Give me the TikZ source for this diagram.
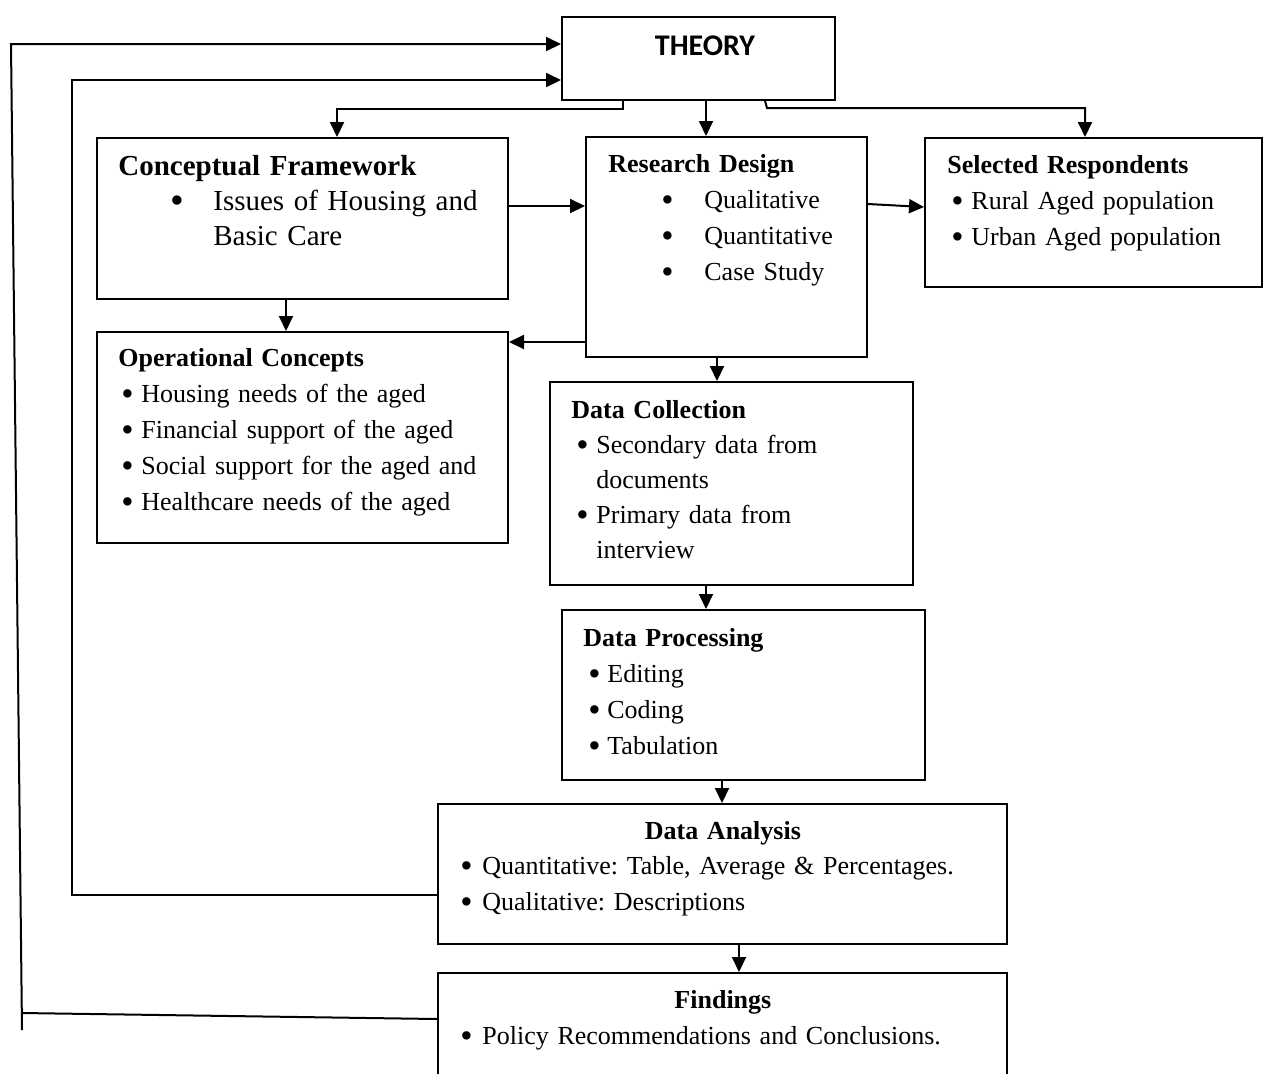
\documentclass[tikz,border=0pt]{standalone}
\usepackage{fontspec}
\setmainfont{Liberation Serif}
\newfontfamily\calibri{Carlito}
\usetikzlibrary{arrows.meta,fit}
\newcommand{\bl}[2]{\hspace*{#1}\makebox[#2][l]{\raisebox{-1.5pt}{\scalebox{1.35}{\textbullet}}}}
\frenchspacing
\tikzset{
  box/.style={draw, rectangle, inner sep=0pt, line width=1pt},
  txt/.style={anchor=base west, inner sep=0pt, align=left, font=\fontsize{13}{18}\selectfont},
  arr/.style={-{Triangle[length=7.5pt,width=7pt]}, line width=1pt},
  link/.style={line width=1pt}
}
\begin{document}
\begin{tikzpicture}[x=0.5pt,y=-0.5pt]
  \useasboundingbox (0,0) rectangle (1264,1073);
  \node (theory) [box, fit={(562,17) (835,100)}] {};
  \node (concept) [box, fit={(97,138) (508,299)}] {};
  \node (design) [box, fit={(586,137) (867,357)}] {};
  \node (resp) [box, fit={(925,138) (1262,287)}] {};
  \node (oper) [box, fit={(97,332) (508,543)}] {};
  \node (collect) [box, fit={(550,382) (913,585)}] {};
  \node (process) [box, fit={(562,610) (925,780)}] {};
  \node (analysis) [box, fit={(438,804) (1007,944)}] {};
  \node (findings) [box, fit={(438,973) (1007,1100)}] {};

  \node (theoryT) [inner sep=0pt, font=\calibri\bfseries\fontsize{15}{17}\selectfont] at (705,46) {THEORY};
  \node (conceptT) [txt, text width=195pt, font=\fontsize{14.5}{17.5}\selectfont] at (118,175)
    {\textbf{Conceptual Framework}\\ \bl{26pt}{21.5pt}Issues of Housing and\\ \hspace*{47.5pt}Basic Care};
  \node (designT) [txt, text width=129pt] at (608,172)
    {\textbf{Research Design}\\ \bl{26.5pt}{21.5pt}Qualitative\\ \bl{26.5pt}{21.5pt}Quantitative\\ \bl{26.5pt}{21.5pt}Case Study};
  \node (respT) [txt, text width=157pt] at (947,173)
    {\textbf{Selected Respondents}\\ \bl{2pt}{10pt}Rural Aged population\\ \bl{2pt}{10pt}Urban Aged population};
  \node (operT) [txt, text width=195pt] at (118,366)
    {\textbf{Operational Concepts}\\ \bl{1.5pt}{10pt}Housing needs of the aged\\ \bl{1.5pt}{10pt}Financial support of the aged\\
     \bl{1.5pt}{10pt}Social support for the aged and\\ \bl{1.5pt}{10pt}Healthcare needs of the aged};
  \node (collectT) [txt, text width=171pt, font=\fontsize{13}{17.5}\selectfont] at (571,418)
    {\textbf{Data Collection}\\ \bl{2.5pt}{10pt}Secondary data from\\ \hspace*{12.5pt}documents\\
     \bl{2.5pt}{10pt}Primary data from\\ \hspace*{12.5pt}interview};
  \node (processT) [txt, text width=171pt] at (583,646)
    {\textbf{Data Processing}\\ \bl{2.5pt}{9.5pt}Editing\\ \bl{2.5pt}{9.5pt}Coding\\ \bl{2.5pt}{9.5pt}Tabulation};
  \node (analysisT) [txt, text width=284.5pt, font=\fontsize{13}{17.75}\selectfont] at (438,839)
    {\makebox[284.5pt]{\textbf{Data Analysis}}\\ \bl{11pt}{11pt}Quantitative: Table, Average \& Percentages.\\
     \bl{11pt}{11pt}Qualitative: Descriptions};
  \node (findingsT) [txt, text width=284.5pt] at (438,1008)
    {\makebox[284.5pt]{\textbf{Findings}}\\ \bl{11pt}{11pt}Policy Recommendations and Conclusions.};

  \coordinate (outerB) at (22,1030);
  \coordinate (outerT) at (11,44);
  \coordinate (outerJ) at (21.8,1013);
  \coordinate (innerT) at (72,80);
  \draw[arr] (outerB) -- (outerT) -- (theory.west |- outerT);
  \draw[link] (findings.west |- 0,1019) -- (outerJ);
  \draw[arr] (analysis.west |- 0,895) -| (innerT) -- (theory.west |- innerT);

  \draw[arr] (theory.south -| 623,0) -- ++(0,8) -| (concept.north -| 337,0);
  \draw[arr] (theory.south -| 706,0) -- (design.north -| 706,0);
  \draw[arr] (theory.south -| 765,0) -- (767,108) -| (resp.north -| 1085,0);
  \draw[arr] (concept.east |- 0,206) -- (design.west |- 0,206);
  \draw[arr] (design.east |- 0,204) -- (resp.west |- 0,207);
  \draw[arr] (design.west |- 0,342) -- (oper.east |- 0,342);
  \draw[arr] (concept.south -| 286,0) -- (oper.north -| 286,0);
  \draw[arr] (design.south -| 717,0) -- (collect.north -| 717,0);
  \draw[arr] (collect.south -| 706,0) -- (process.north -| 706,0);
  \draw[arr] (process.south -| 722,0) -- (analysis.north -| 722,0);
  \draw[arr] (analysis.south -| 739,0) -- (findings.north -| 739,0);
\end{tikzpicture}
\end{document}
